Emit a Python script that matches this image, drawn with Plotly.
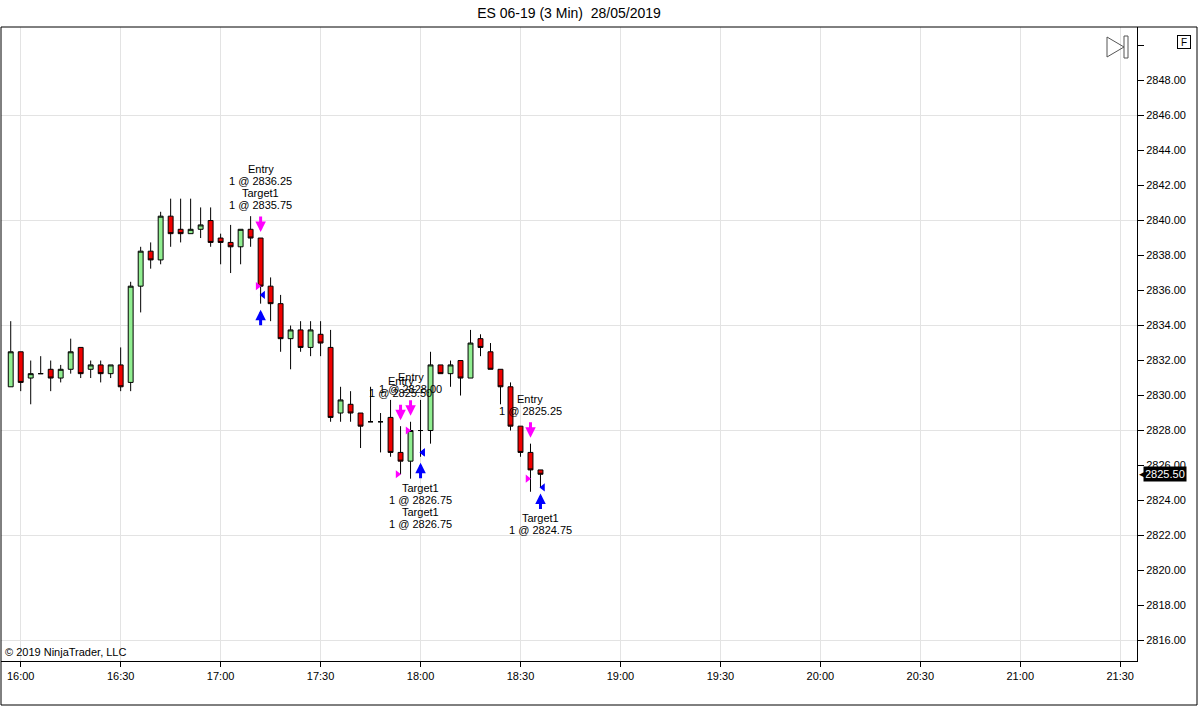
import pandas as pd
import plotly.graph_objects as go

# 3 minute bars, ES 06-19, 28/05/2019
opens = [2830.5, 2832.5, 2831.0, 2831.25, 2831.5, 2831.0, 2831.5, 2832.75, 2831.5, 2831.75,
         2831.25, 2831.75, 2830.75, 2836.25, 2838.25, 2837.75, 2840.25, 2839.5, 2839.25, 2839.5,
         2840.0, 2839.0, 2838.75, 2838.5, 2839.5, 2839.0, 2836.25, 2835.25, 2833.25, 2833.75,
         2832.75, 2833.5, 2832.75, 2829.0, 2829.5, 2829.0, 2828.5, 2828.5, 2828.75, 2826.75,
         2826.25, 2828.0, 2828.0, 2831.75, 2831.25, 2832.0, 2831.0, 2833.25, 2832.5, 2831.5,
         2830.5, 2828.25, 2826.75, 2825.75]
highs = [2834.25, 2832.5, 2832.0, 2832.25, 2832.0, 2831.75, 2833.25, 2832.75, 2832.0, 2832.0,
         2831.75, 2832.75, 2836.5, 2838.5, 2838.75, 2840.5, 2841.25, 2841.25, 2841.25, 2840.75,
         2840.75, 2839.25, 2839.75, 2839.5, 2840.25, 2839.0, 2836.75, 2835.75, 2834.0, 2834.25,
         2834.25, 2834.25, 2833.75, 2830.5, 2830.25, 2829.0, 2830.5, 2829.0, 2829.75, 2828.25,
         2828.5, 2829.75, 2832.5, 2831.75, 2832.0, 2832.0, 2833.75, 2833.5, 2833.0, 2831.5,
         2830.75, 2828.25, 2827.25, 2825.75]
lows = [2830.5, 2830.25, 2829.5, 2831.25, 2830.25, 2830.75, 2831.25, 2831.0, 2831.0, 2830.75,
        2831.0, 2830.25, 2830.25, 2834.75, 2837.25, 2837.5, 2838.5, 2838.75, 2839.25, 2839.0,
        2838.5, 2837.5, 2837.0, 2837.5, 2838.5, 2835.25, 2834.25, 2832.5, 2831.5, 2832.5,
        2832.25, 2832.25, 2828.5, 2828.5, 2828.5, 2827.0, 2828.5, 2826.75, 2826.5, 2825.5,
        2825.25, 2826.5, 2827.25, 2831.25, 2830.5, 2830.0, 2831.0, 2832.25, 2831.5, 2829.5,
        2828.0, 2826.5, 2824.5, 2824.75]
closes = [2832.5, 2830.75, 2831.25, 2831.25, 2831.0, 2831.5, 2832.5, 2831.25, 2831.75, 2831.25,
          2831.75, 2830.5, 2836.25, 2838.25, 2837.75, 2840.25, 2839.25, 2839.25, 2839.5, 2839.75,
          2838.75, 2838.75, 2838.5, 2839.5, 2839.0, 2836.25, 2835.25, 2833.25, 2833.75, 2832.75,
          2833.75, 2833.0, 2828.75, 2829.75, 2829.0, 2828.25, 2828.5, 2828.5, 2826.75, 2826.25,
          2828.0, 2828.0, 2831.75, 2831.25, 2831.75, 2831.0, 2833.0, 2832.75, 2831.5, 2830.5,
          2828.25, 2826.75, 2825.75, 2825.5]

bar_times = pd.date_range("2019-05-28 15:57", periods=len(opens), freq="3min")

# executions
entry_bars = ["17:12", "17:54", "17:57", "18:33"]
entry_prices = [2836.25, 2825.50, 2828.00, 2825.25]
exit_bars = ["17:12", "18:00", "18:00", "18:36"]
exit_prices = [2835.75, 2826.75, 2826.75, 2824.75]
exit_label_above = [True, False, False, False]

price_ticks = list(range(2816, 2851, 2))
grid_prices = list(range(2816, 2851, 6))

FONT = "Arial, Liberation Sans, sans-serif"
PINK = "#ff00ff"
BLUE = "#0000ff"


def bar_index(hhmm):
    return list(bar_times).index(pd.Timestamp("2019-05-28 " + hhmm))


def px_x(p):
    return (p - 1) / 1136


def px_y(p):
    return 1 - (p - 27) / 634


fig = go.Figure()

fig.add_trace(go.Candlestick(
    x=bar_times, open=opens, high=highs, low=lows, close=closes,
    increasing=dict(line=dict(color="black", width=1), fillcolor="#90ee90"),
    decreasing=dict(line=dict(color="black", width=1), fillcolor="#f00000"),
    whiskerwidth=0, showlegend=False, hoverinfo="skip",
))

# carrier for the grid axis (invisible)
fig.add_trace(go.Scatter(x=[bar_times[0]], y=[closes[0]], yaxis="y2", mode="markers",
                         marker=dict(opacity=0), showlegend=False, hoverinfo="skip"))

entry_times = [bar_times[bar_index(b)] for b in entry_bars]
exit_times = [bar_times[bar_index(b)] for b in exit_bars]

fig.add_trace(go.Scatter(
    x=[t - pd.Timedelta(seconds=54) for t in entry_times], y=entry_prices,
    mode="markers", marker=dict(symbol="triangle-right", size=7, color=PINK),
    showlegend=False, hoverinfo="skip",
))
fig.add_trace(go.Scatter(
    x=[t + pd.Timedelta(seconds=45) for t in exit_times], y=exit_prices,
    mode="markers", marker=dict(symbol="triangle-left", size=7, color=BLUE),
    showlegend=False, hoverinfo="skip",
))

# arrows + text stacks
above = {}
below = {}
for i in range(len(entry_bars)):
    above.setdefault(entry_bars[i], []).extend(["Entry", f"1 @ {entry_prices[i]:.2f}"])
    target = exit_bars[i]
    lines = ["Target1", f"1 @ {exit_prices[i]:.2f}"]
    if exit_label_above[i]:
        above.setdefault(target, []).extend(lines)
    else:
        below.setdefault(target, []).extend(lines)

annotations = []
for b in set(entry_bars):
    k = bar_index(b)
    annotations.append(dict(x=bar_times[k], y=highs[k], text="", showarrow=True,
                            ax=0, ay=-23, standoff=6, arrowhead=2, arrowsize=0.7,
                            arrowwidth=3, arrowcolor=PINK))
for b in set(exit_bars):
    k = bar_index(b)
    annotations.append(dict(x=bar_times[k], y=lows[k], text="", showarrow=True,
                            ax=0, ay=23, standoff=6, arrowhead=2, arrowsize=0.7,
                            arrowwidth=3, arrowcolor=BLUE))

for b, lines in above.items():
    k = bar_index(b)
    n = len(lines)
    for j, s in enumerate(lines):
        annotations.append(dict(x=bar_times[k], y=highs[k], text=s, showarrow=False,
                                yshift=33 + 12 * (n - 1 - j), yanchor="middle",
                                font=dict(family=FONT, size=11, color="black")))
for b, lines in below.items():
    k = bar_index(b)
    for j, s in enumerate(lines):
        annotations.append(dict(x=bar_times[k], y=lows[k], text=s, showarrow=False,
                                yshift=-31 - 12 * j, yanchor="middle",
                                font=dict(family=FONT, size=11, color="black")))

# last price tag
annotations.append(dict(xref="paper", yref="y", x=px_x(1143), y=closes[-1],
                        text=f"{closes[-1]:.2f}", showarrow=False, xanchor="left",
                        bgcolor="black", borderpad=1,
                        font=dict(family=FONT, size=11, color="white")))
annotations.append(dict(xref="paper", yref="y", x=px_x(1137), y=closes[-1],
                        text="\u25c0", showarrow=False, xanchor="left",
                        font=dict(size=9, color="black")))
annotations.append(dict(xref="paper", yref="paper", x=px_x(3), y=0, yshift=1,
                        text="\u00a9 2019 NinjaTrader, LLC", showarrow=False,
                        xanchor="left", yanchor="bottom",
                        font=dict(family=FONT, size=11, color="black")))
annotations.append(dict(xref="paper", yref="paper", x=px_x(1190.5), y=px_y(34.5),
                        text="F", showarrow=False, bordercolor="black", borderwidth=1,
                        borderpad=1, bgcolor="white", width=10, height=10,
                        font=dict(family=FONT, size=10, color="black")))

shapes = [
    dict(type="rect", xref="paper", yref="paper", x0=0, x1=px_x(1197), y0=px_y(705), y1=1,
         line=dict(color="black", width=1)),
    dict(type="path", xref="paper", yref="paper",
         path=f"M {px_x(1107)} {px_y(37)} L {px_x(1107)} {px_y(57)} L {px_x(1124)} {px_y(47)} Z",
         line=dict(color="#555555", width=1)),
    dict(type="rect", xref="paper", yref="paper", x0=px_x(1124), x1=px_x(1128),
         y0=px_y(58), y1=px_y(36), line=dict(color="#555555", width=1)),
]

y_range = [2814.83, 2851.06]

fig.update_layout(
    width=1198, height=706,
    margin=dict(l=1, r=61, t=27, b=45),
    paper_bgcolor="white", plot_bgcolor="white",
    title=dict(text="ES 06-19 (3 Min)\u00a0 28/05/2019", x=0.5, xref="paper", y=1 - 13 / 706,
               yanchor="middle", font=dict(family=FONT, size=14, color="black")),
    font=dict(family=FONT, color="black"),
    showlegend=False,
    boxgap=0.3,
    xaxis=dict(
        type="date", range=["2019-05-28 15:54:05", "2019-05-28 21:35:02"],
        rangeslider=dict(visible=False),
        tick0="2019-05-28 16:00", dtick=30 * 60 * 1000, tickformat="%H:%M",
        ticks="outside", ticklen=5, tickcolor="black",
        showgrid=True, gridcolor="#e3e3e3", gridwidth=1,
        showline=True, linecolor="black", zeroline=False,
        tickfont=dict(family=FONT, size=11, color="black"),
    ),
    yaxis=dict(
        side="right", range=y_range,
        tickvals=price_ticks,
        ticktext=[f"{v:.2f}" if v != 2850 else "" for v in price_ticks],
        ticks="outside", ticklen=6, tickcolor="black",
        showgrid=False, showline=True, linecolor="black", zeroline=False,
        tickfont=dict(family=FONT, size=11, color="black"),
    ),
    yaxis2=dict(
        overlaying="y", side="right", anchor="x", range=y_range,
        tickvals=grid_prices, showticklabels=False, ticks="",
        showgrid=True, gridcolor="#e3e3e3", gridwidth=1,
        showline=False, zeroline=False,
    ),
    annotations=annotations,
    shapes=shapes,
)

fig.write_html("out.html", config={"displayModeBar": False},
               post_script="document.body.style.margin='0';")
